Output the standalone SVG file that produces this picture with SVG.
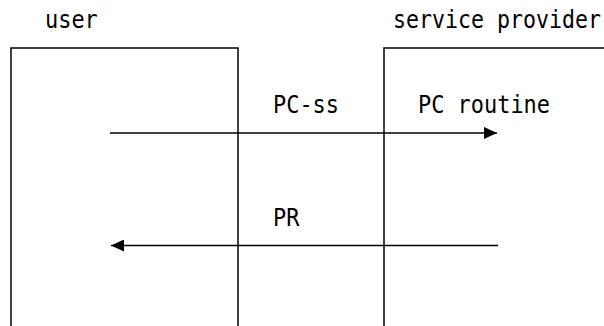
<svg xmlns="http://www.w3.org/2000/svg" width="604" height="326" viewBox="0 0 604 326">
<style>
text{font-family:"DejaVu Sans Mono","Liberation Mono",monospace;font-size:24.5px;fill:#000}
.box{fill:none;stroke:#000;stroke-width:1.5}
.conn{stroke:#000;stroke-width:1.5;fill:none}
</style>
<defs>
<marker id="ah" markerWidth="13" markerHeight="12" refX="13" refY="6" orient="auto" markerUnits="userSpaceOnUse">
<path d="M0,0 L13,6 L0,12 Z" fill="#000"/>
</marker>
</defs>
<rect width="604" height="326" fill="#fff"/>
<g id="user">
<path class="box" d="M11,326 V48 H238 V326"/>
<text x="45" y="28" textLength="52.8" lengthAdjust="spacingAndGlyphs">user</text>
</g>
<g id="service-provider">
<path class="box" d="M384,326 V48 H604"/>
<text x="393" y="28" textLength="208" lengthAdjust="spacingAndGlyphs">service provider</text>
<text x="418" y="113" textLength="132" lengthAdjust="spacingAndGlyphs">PC routine</text>
</g>
<g id="connectors">
<line class="conn" x1="110" y1="133" x2="497" y2="133" marker-end="url(#ah)"/>
<text x="273" y="113" textLength="66" lengthAdjust="spacingAndGlyphs">PC-ss</text>
<line class="conn" x1="498" y1="245.5" x2="111" y2="245.5" marker-end="url(#ah)"/>
<text x="273" y="226" textLength="26.4" lengthAdjust="spacingAndGlyphs">PR</text>
</g>
</svg>
